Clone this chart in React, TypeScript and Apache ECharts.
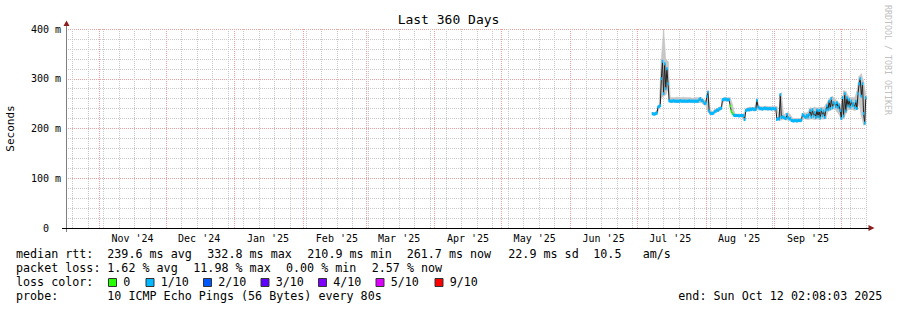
import React, { useEffect, useRef } from "react";
import * as echarts from "echarts";

// ---------- data ----------
const endTime = "2025-10-12T02:08:03Z";
const rangeDays = 360;

const monthStarts = [
  "2024-11-01", "2024-12-01", "2025-01-01", "2025-02-01", "2025-03-01", "2025-04-01",
  "2025-05-01", "2025-06-01", "2025-07-01", "2025-08-01", "2025-09-01", "2025-10-01",
];
const monthLabels = [
  "Nov '24", "Dec '24", "Jan '25", "Feb '25", "Mar '25", "Apr '25",
  "May '25", "Jun '25", "Jul '25", "Aug '25", "Sep '25",
];
const firstWeekLine = "2024-10-20";

const medianStart = "2025-07-08T00:00:00Z";
const medianStepHours = 12;
const medianRtt = [
  230, 229, 229, 230, 231, 243, 244, 246, 300, 335,
  270, 330, 280, 320, 290, 256,
  255, 255, 255, 256, 255, 255, 255, 255, 255, 256, 255, 255, 255,
  255, 255, 255, 255, 256, 255, 255, 255, 255, 255, 255, 255, 255,
  258, 260, 256, 257, 253, 250, 251, 265, 273, 235,
  231, 230, 230, 231, 234, 235, 237, 236, 239, 240, 241,
  258, 258, 259, 259, 258, 258, 258, 245, 235, 230,
  227, 226, 226, 226, 226, 225, 226, 226, 226, 226,
  218, 236, 237, 238, 237, 239, 238, 240, 238, 239, 238, 257, 243,
  241, 240, 240, 239, 240, 241, 240, 240, 239, 240, 240, 239, 240, 240, 239, 240,
  218, 220, 219, 268, 222, 224, 222, 221, 220, 228, 222, 219, 220,
  216, 216, 215, 216, 216, 215, 216, 216, 216, 217,
  228, 226, 224, 222, 226, 223, 228,
  236, 223, 238, 225, 232, 222, 237, 224, 236, 221, 238, 226, 235, 222, 237,
  245, 238, 255, 240, 260, 242, 252,
  250, 244, 252, 242, 247, 236,
  220, 262, 225, 270, 235, 262, 245, 258, 243, 255, 246, 250, 242, 255, 240,
  270, 290, 300, 265, 290, 230, 211, 262,
];

const smokeStart = "2025-07-08T00:00:00Z";
const smokeStepHours = 24;
const smokeHigh = [
  232, 232, 236, 248, 340, 400, 338, 335, 262,
  262, 262, 263, 262, 262, 263, 262, 262, 262, 261, 262, 262,
  262, 262, 258, 256, 276, 238, 234, 238, 240, 243, 244,
  262, 262, 262, 262, 248, 230, 229, 229, 229, 229, 240,
  242, 243, 242, 243, 260, 245,
  244, 244, 245, 244, 244, 244, 244, 244,
  226, 272, 228, 230, 232, 228, 221, 220, 220, 220, 221,
  232, 231, 233, 242, 240, 243, 241, 242, 243, 242,
  248, 255, 262, 265, 260, 256, 252, 246, 276, 275, 266,
  262, 262, 262, 275, 305, 310, 295, 268,
];
const smokeLow = [
  227, 227, 228, 240, 262, 265, 268, 280, 252,
  252, 252, 252, 252, 252, 252, 252, 252, 252, 252, 252, 252,
  252, 252, 248, 247, 233, 228, 228, 231, 233, 235, 238,
  255, 255, 255, 255, 228, 224, 224, 224, 224, 216, 234,
  235, 235, 236, 235, 238, 237,
  237, 237, 237, 237, 237, 237, 237, 237,
  216, 217, 219, 217, 217, 217, 213, 213, 213, 213, 213,
  220, 219, 218, 219, 219, 218, 219, 218, 219, 219,
  220, 234, 236, 238, 240, 234, 228, 217, 220, 230, 238,
  238, 238, 236, 238, 250, 225, 207, 207,
];

const zeroLossSpans = [["2025-08-12T00:00:00Z", "2025-08-13T06:00:00Z"]];

const lossLegendLabels = ["0", "1/10", "2/10", "3/10", "4/10", "5/10", "9/10"];
const lossLegendColors = ["#26ff00", "#00b8ff", "#0059ff", "#5e00ff", "#7e00ff", "#dd00ff", "#ff0000"];

const rttStats = ["239.6 ms avg", "332.8 ms max", "210.9 ms min", "261.7 ms now", "22.9 ms sd", "10.5", "am/s"];
const lossStats = ["1.62 % avg", "11.98 % max", "0.00 % min", "2.57 % now"];
const probeText = "10 ICMP Echo Pings (56 Bytes) every 80s";
const endText = "end: Sun Oct 12 02:08:03 2025";
const titleText = "Last 360 Days";
const watermarkText = "RRDTOOL / TOBI OETIKER";

// ---------- layout / style ----------
const FONT = "DejaVu Sans Mono";
const LEG_FS = 11.7;
const rttX = [107.3, 207.3, 307.3, 406.7, 508.3, 593.3, 642.7];
const lossX = [107.3, 193.3, 286, 371.7];
const swatchX = [108.5, 146, 203.5, 261, 318.5, 376, 435];
const rowY = [253.5, 267.8, 282, 296.2];
const GRID_MINOR = "#c8c8c8";
const GRID_MAJOR = "#eea0a0";
const ARROW = "#8b1f1f";
const SMOKE = "#c6c6c6";
const BAND_PX = 3;

function buildOption() {
  const HOUR = 3600000;
  const DAY = 24 * HOUR;
  const end = Date.parse(endTime);
  const start = end - rangeDays * DAY;

  const monthTicks = monthStarts.map((s) => Date.parse(s + "T00:00:00Z"));
  const labelTicks = monthLabels.map((_, i) => monthTicks[i] + 15 * DAY);
  const labelMap = new Map<number, string>();
  labelTicks.forEach((t, i) => labelMap.set(t, monthLabels[i]));
  const weekTicks: number[] = [];
  for (let t = Date.parse(firstWeekLine + "T00:00:00Z"); t <= end; t += 7 * DAY) weekTicks.push(t);

  const m0 = Date.parse(medianStart);
  const mStep = medianStepHours * HOUR;
  const medianData = medianRtt.map((v, i) => [m0 + i * mStep, v]);

  const s0 = Date.parse(smokeStart);
  const sStep = smokeStepHours * HOUR;
  const smokeData: number[][] = [];
  for (let i = 0; i < smokeHigh.length - 1; i++) {
    smokeData.push([
      s0 + i * sStep, smokeLow[i], smokeHigh[i],
      s0 + (i + 1) * sStep, smokeLow[i + 1], smokeHigh[i + 1],
    ]);
  }

  const zeroSpans = zeroLossSpans.map(([a, b]) => [Date.parse(a), Date.parse(b)]);
  const lossColorAt = (t: number) =>
    zeroSpans.some(([a, b]) => t >= a && t < b) ? lossLegendColors[0] : lossLegendColors[1];

  const txt = (text: string, x: number, y: number, extra: any = {}) => ({
    type: "text",
    x,
    y,
    silent: true,
    style: {
      text,
      fill: "#000",
      fontFamily: FONT,
      fontSize: LEG_FS,
      align: "left",
      verticalAlign: "middle",
      textAlign: "left",
      textVerticalAlign: "middle",
      ...extra,
    },
  });

  const graphics: any[] = [];
  graphics.push(txt(titleText, 448.5, 19, { fontSize: 13, align: "center", textAlign: "center" }));
  graphics.push({
    type: "text",
    x: 887.5,
    y: 60,
    rotation: -Math.PI / 2,
    silent: true,
    style: {
      text: watermarkText, fill: "#c0c0c0", fontFamily: FONT, fontSize: 8.3,
      align: "center", verticalAlign: "middle", textAlign: "center", textVerticalAlign: "middle",
    },
  });
  graphics.push(txt("median rtt:", 16, rowY[0]));
  rttStats.forEach((s, i) => graphics.push(txt(s, rttX[i], rowY[0])));
  graphics.push(txt("packet loss:", 16, rowY[1]));
  lossStats.forEach((s, i) => graphics.push(txt(s, lossX[i], rowY[1])));
  graphics.push(txt("loss color:", 16, rowY[2]));
  lossLegendLabels.forEach((s, i) => {
    graphics.push({
      type: "rect",
      silent: true,
      shape: { x: swatchX[i], y: rowY[2] - 3.5, width: 8, height: 8 },
      style: { fill: lossLegendColors[i], stroke: "#333", lineWidth: 1 },
    });
    graphics.push(txt(s, swatchX[i] + 14.7, rowY[2]));
  });
  graphics.push(txt("probe:", 16, rowY[3]));
  graphics.push(txt(probeText, 107.3, rowY[3]));
  graphics.push(txt(endText, 678.3, rowY[3]));
  graphics.push({
    type: "polygon", silent: true,
    shape: { points: [[63.5, 26], [69.5, 26], [66.5, 20.5]] },
    style: { fill: ARROW },
  });
  graphics.push({
    type: "polygon", silent: true,
    shape: { points: [[868.5, 225], [868.5, 231], [874.5, 228]] },
    style: { fill: ARROW },
  });
  graphics.push({
    type: "line", silent: true,
    shape: { x1: 866, y1: 228.5, x2: 869, y2: 228.5 },
    style: { stroke: "#000", lineWidth: 1 },
  });
  graphics.push({
    type: "line", silent: true,
    shape: { x1: 62, y1: 228.5, x2: 66, y2: 228.5 },
    style: { stroke: "#000", lineWidth: 1 },
  });
  graphics.push({
    type: "line", silent: true,
    shape: { x1: 66.5, y1: 228, x2: 66.5, y2: 232 },
    style: { stroke: "#808080", lineWidth: 1 },
  });
  graphics.push({
    type: "line", silent: true,
    shape: { x1: 66.5, y1: 26, x2: 66.5, y2: 29 },
    style: { stroke: "#808080", lineWidth: 1 },
  });

  return {
    animation: false,
    backgroundColor: "#fff",
    grid: { left: 66, top: 29, width: 800, height: 199, outerBoundsMode: "none", containLabel: false },
    xAxis: [
      {
        type: "value",
        min: start,
        max: end,
        position: "bottom",
        axisLine: { show: true, onZero: false, lineStyle: { color: "#000", width: 1 } },
        axisTick: { show: false, customValues: weekTicks },
        splitLine: { show: true, lineStyle: { color: GRID_MINOR, width: 1, type: [1, 1] } },
        axisLabel: {
          show: true,
          customValues: labelTicks,
          formatter: (v: number) => labelMap.get(v) ?? "",
          fontFamily: FONT,
          fontSize: 10,
          color: "#000",
          margin: 5,
          hideOverlap: false,
          showMinLabel: true,
          showMaxLabel: true,
        },
      },
      {
        type: "value",
        min: start,
        max: end,
        position: "bottom",
        axisLine: { show: false },
        axisTick: { show: false, customValues: monthTicks },
        axisLabel: { show: false },
        splitLine: { show: true, lineStyle: { color: GRID_MAJOR, width: 1, type: [1, 1] } },
      },
    ],
    yAxis: {
      type: "value",
      min: 0,
      max: 400,
      interval: 100,
      name: "Seconds",
      nameLocation: "middle",
      nameRotate: 90,
      nameGap: 50,
      nameTextStyle: { fontFamily: FONT, fontSize: 11, color: "#000" },
      axisLine: { show: true, lineStyle: { color: "#808080", width: 1 } },
      axisTick: { show: false },
      axisLabel: {
        formatter: (v: number) => (v === 0 ? "0\u00a0\u00a0" : `${v}\u00a0m`),
        fontFamily: FONT,
        fontSize: 10,
        color: "#000",
        margin: 5,
      },
      splitLine: { show: true, lineStyle: { color: GRID_MAJOR, width: 1, type: [1, 1] } },
      minorTick: { show: false, splitNumber: 5 },
      minorSplitLine: { show: true, lineStyle: { color: GRID_MINOR, width: 1, type: [1, 1] } },
    },
    series: [
      {
        type: "custom",
        name: "smoke",
        data: smokeData,
        encode: { x: [0, 3], y: [1, 2, 4, 5] },
        silent: true,
        z: 1,
        renderItem: (_p: any, api: any) => {
          const p0 = api.coord([api.value(0), api.value(1)]);
          const p1 = api.coord([api.value(3), api.value(4)]);
          const p2 = api.coord([api.value(3), api.value(5)]);
          const p3 = api.coord([api.value(0), api.value(2)]);
          return {
            type: "polygon",
            shape: { points: [p0, p1, p2, p3] },
            style: { fill: SMOKE, stroke: SMOKE, lineWidth: 0.6 },
          };
        },
      },
      {
        type: "line",
        name: "median",
        data: medianData,
        symbol: "none",
        lineStyle: { width: 1, color: "#202020" },
        silent: true,
        z: 2,
      },
      {
        type: "custom",
        name: "median (loss colour)",
        data: medianData,
        encode: { x: 0, y: 1 },
        silent: true,
        z: 3,
        renderItem: (_p: any, api: any) => {
          const t = api.value(0);
          const v = api.value(1);
          const a = api.coord([t - mStep / 2, v]);
          const b = api.coord([t + mStep / 2, v]);
          return {
            type: "rect",
            shape: { x: a[0] - 0.25, y: a[1] - BAND_PX / 2, width: b[0] - a[0] + 0.5, height: BAND_PX },
            style: { fill: lossColorAt(t) },
          };
        },
      },
    ],
    graphic: graphics,
  };
}

export default function App() {
  const ref = useRef<HTMLDivElement>(null);
  useEffect(() => {
    const chart = echarts.init(ref.current!, null, { renderer: "svg" });
    chart.setOption(buildOption() as any);
    return () => chart.dispose();
  }, []);
  return (
    <div
      ref={ref}
      style={{ position: "fixed", left: 0, top: 0, width: 897, height: 310, background: "#fff" }}
    />
  );
}
